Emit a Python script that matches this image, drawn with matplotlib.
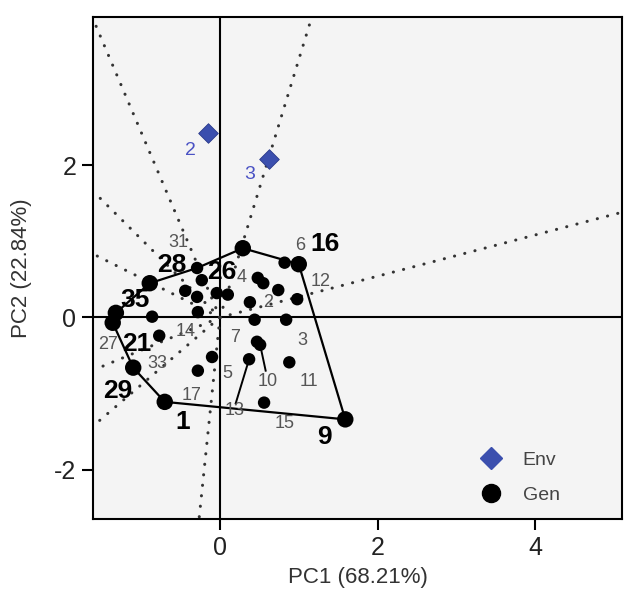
import matplotlib
matplotlib.use("Agg")
import matplotlib.pyplot as plt
from matplotlib.lines import Line2D

plt.rcParams['font.family'] = ['Liberation Sans', 'DejaVu Sans']
plt.rcParams['axes.unicode_minus'] = False

# ---------------- data ----------------
# genotype scores (PC1, PC2); vertex flag marks polygon vertices
gen_x = [0.29, 0.82, 1.00, 0.48, 0.55, 0.74, 0.38, 0.98, -0.04, 0.10,
         0.44, 0.84, 0.47, 0.51, 0.37, 0.88, -0.10, 0.56, 1.59, -0.70,
         -1.10, -1.32, -1.36, -0.89, -0.29, -0.23, -0.44, -0.29, -0.28, -0.86,
         -0.77, -0.28]
gen_y = [0.91, 0.72, 0.70, 0.52, 0.45, 0.36, 0.20, 0.24, 0.32, 0.30,
         -0.03, -0.03, -0.32, -0.36, -0.55, -0.59, -0.52, -1.12, -1.34, -1.11,
         -0.66, 0.06, -0.07, 0.45, 0.65, 0.49, 0.35, 0.27, 0.07, 0.01,
         -0.24, -0.70]
gen_vertex = [1, 0, 1, 0, 0, 0, 0, 0, 0, 0,
              0, 0, 0, 0, 0, 0, 0, 0, 1, 1,
              1, 1, 1, 1, 0, 0, 0, 0, 0, 0,
              0, 0]

# polygon (indices into genotype arrays)
hull_idx = [0, 2, 18, 19, 20, 22, 21, 23, 24, 0]

# environment scores
env_names = ["2", "3"]
env_x = [-0.15, 0.62]
env_y = [2.43, 2.08]

# sector rays (end point direction from origin)
ray_x = [5.2, 1.18, -1.60, -1.60, -1.60, -1.60, -1.60, -0.27]
ray_y = [1.41, 4.00, 3.90, 1.65, 0.83, -0.69, -1.42, -2.70]

# genotype labels
lab_text = ["16", "6", "28", "26", "4", "31", "35", "12", "2", "14", "7", "3",
            "27", "21", "33", "5", "10", "11", "29", "17", "13", "15", "1", "9"]
lab_bold = [1, 0, 1, 1, 0, 0, 1, 0, 0, 0, 0, 0,
            0, 1, 0, 0, 0, 0, 1, 0, 0, 0, 1, 1]

x_label = "PC1 (68.21%)"
y_label = "PC2 (22.84%)"
x_ticks = [0, 2, 4]
y_ticks = [-2, 0, 2]

# ---------------- layout ----------------
lab_pos = [(1.33, 0.96), (1.02, 0.94), (-0.61, 0.69), (0.03, 0.60), (0.27, 0.52),
           (-0.53, 0.99), (-1.08, 0.23), (1.28, 0.47), (0.61, 0.20), (-0.44, -0.18),
           (0.19, -0.27), (1.05, -0.30), (-1.42, -0.36), (-1.06, -0.35), (-0.79, -0.61),
           (0.10, -0.74), (0.60, -0.84), (1.13, -0.84), (-1.29, -0.97), (-0.36, -1.03),
           (0.19, -1.23), (0.82, -1.39), (-0.47, -1.38), (1.33, -1.57)]
env_lab_pos = [(-0.38, 2.20), (0.38, 1.88)]
# leader lines: (label end, point index)
leaders = [((0.20, -1.13), 14), ((0.58, -0.70), 13)]

fig = plt.figure(figsize=(6.24, 5.92), dpi=100)
ax = fig.add_axes([93/624, 1-519/592, (622-93)/624, (519-17)/592])
ax.set_facecolor('#f4f4f4')
ax.set_xlim(-1.61, 5.10)
ax.set_ylim(-2.65, 3.95)

ax.axhline(0, color='black', lw=1.5, zorder=1)
ax.axvline(0, color='black', lw=1.5, zorder=1)

for rx, ry in zip(ray_x, ray_y):
    ax.plot([0, rx], [0, ry], color='#333333', lw=2.2, ls=(0, (0.05, 3.4)),
            dash_capstyle='round', zorder=1)

hx = [gen_x[i] for i in hull_idx]
hy = [gen_y[i] for i in hull_idx]
ax.plot(hx, hy, color='black', lw=1.6, zorder=2)

for (lx, ly), pi in leaders:
    ax.plot([lx, gen_x[pi]], [ly, gen_y[pi]], color='black', lw=1.4, zorder=2)

sizes = [140 if v else 80 for v in gen_vertex]
ax.scatter(gen_x, gen_y, s=sizes, color='black', zorder=3, linewidths=0)

ax.scatter(env_x, env_y, marker='D', s=100, color='#3b4fae',
           edgecolors='#2a3a8a', linewidths=0.6, zorder=3)
for name, (lx, ly) in zip(env_names, env_lab_pos):
    ax.text(lx, ly, name, color='#4a52c4', fontsize=14, ha='center', va='center')

for t, b, (lx, ly) in zip(lab_text, lab_bold, lab_pos):
    if b:
        ax.text(lx, ly, t, fontsize=19, fontweight='bold', color='black',
                ha='center', va='center', zorder=4)
    else:
        ax.text(lx, ly, t, fontsize=13, color='#555555',
                ha='center', va='center', zorder=4)

for sp in ax.spines.values():
    sp.set_linewidth(1.5)
ax.set_xticks(x_ticks)
ax.set_yticks(y_ticks)
ax.tick_params(axis='both', length=8, width=1.5, labelsize=18, colors='black',
               labelcolor='#222222', pad=4)
ax.set_xlabel(x_label, fontsize=16, color='#333333', labelpad=5)
ax.set_ylabel(y_label, fontsize=16, color='#333333', labelpad=16)

handles = [Line2D([], [], marker='D', ls='', color='#3b4fae', markersize=11),
           Line2D([], [], marker='o', ls='', color='black', markersize=13)]
ax.legend(handles, ['Env', 'Gen'], loc='lower right', frameon=False,
          fontsize=14, labelcolor='#444444', handletextpad=0.6,
          labelspacing=0.9, bbox_to_anchor=(0.915, -0.005))

fig.savefig('out.png', dpi=100)
